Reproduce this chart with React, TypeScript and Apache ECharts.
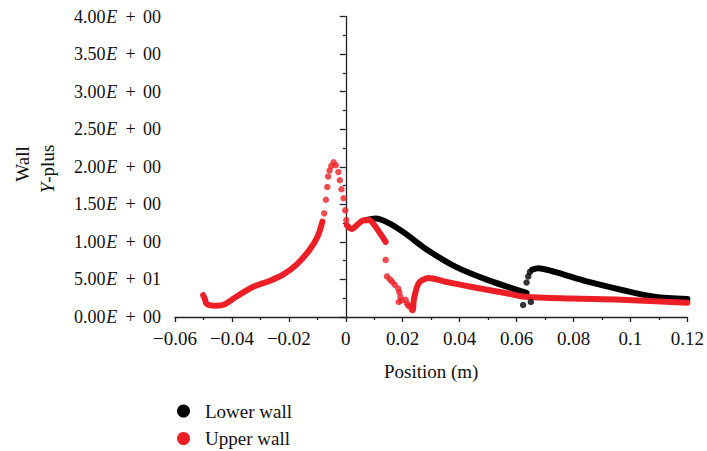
import React, { useEffect, useRef } from "react";
import * as echarts from "echarts";

// ---------- data ----------
const xTickLabels = ["\u22120.06", "\u22120.04", "\u22120.02", "0", "0.02", "0.04", "0.06", "0.08", "0.1", "0.12"];
const yTickLabels = ["0.00E + 00", "5.00E + 01", "1.00E + 00", "1.50E + 00", "2.00E + 00", "2.50E + 00", "3.00E + 00", "3.50E + 00", "4.00E + 00"];

// Lower wall (black)
const lowerSeg1: number[][] = [
  [0.007, 1.29], [0.0105, 1.31], [0.0151, 1.25], [0.021, 1.11], [0.028, 0.91],
  [0.0385, 0.67], [0.05, 0.49], [0.0635, 0.32],
];
const lowerDots: number[][] = [
  [0.0623, 0.16], [0.065, 0.2], [0.0635, 0.46], [0.0641, 0.54], [0.0647, 0.6],
];
const lowerSeg2: number[][] = [
  [0.0655, 0.63], [0.0676, 0.65], [0.0734, 0.6], [0.085, 0.47], [0.097, 0.36],
  [0.1084, 0.27], [0.12, 0.24],
];

// Upper wall (red)
const upperSeg1: number[][] = [
  [-0.0501, 0.29], [-0.0495, 0.24], [-0.049, 0.18], [-0.0475, 0.155], [-0.0455, 0.15],
  [-0.0425, 0.17], [-0.0385, 0.27], [-0.0327, 0.4], [-0.0268, 0.48], [-0.0222, 0.56],
  [-0.0175, 0.69], [-0.0128, 0.89], [-0.0099, 1.07], [-0.0082, 1.27],
];
const upperDots1: number[][] = [
  [-0.0076, 1.38], [-0.007, 1.56], [-0.0065, 1.73], [-0.0062, 1.87], [-0.0057, 1.95],
  [-0.0051, 2.01], [-0.0043, 2.06], [-0.0035, 2.02], [-0.0026, 1.93], [-0.0021, 1.82],
  [-0.0015, 1.7], [-0.0008, 1.58], [-0.0002, 1.42], [0.0002, 1.29],
];
const upperSeg2: number[][] = [
  [0.0004, 1.22], [0.0012, 1.19], [0.0022, 1.17], [0.0035, 1.21], [0.0058, 1.28],
  [0.0082, 1.29], [0.0099, 1.23], [0.0116, 1.14], [0.013, 1.06], [0.014, 1.0],
];
const upperDots2: number[][] = [
  [0.014, 0.76], [0.0145, 0.54], [0.0155, 0.5], [0.0163, 0.47], [0.0172, 0.43],
  [0.0184, 0.38], [0.0188, 0.33], [0.0192, 0.27], [0.0186, 0.2], [0.0195, 0.22],
  [0.021, 0.23], [0.0215, 0.18], [0.022, 0.15], [0.0227, 0.14], [0.0232, 0.1],
  [0.0235, 0.09],
];
const upperSeg3: number[][] = [
  [0.0237, 0.12], [0.0239, 0.23], [0.0245, 0.33], [0.025, 0.4], [0.0258, 0.46],
  [0.0268, 0.49], [0.0291, 0.52], [0.035, 0.47], [0.0443, 0.4], [0.056, 0.32],
  [0.063, 0.27], [0.079, 0.245], [0.0967, 0.23], [0.12, 0.19],
];

const BLACK = "#000000";
const RED = "#ec1f27";
const FONT = "Liberation Serif";
const TXT = "#111111";

function lineSeries(name: string, color: string, data: number[][]) {
  return {
    type: "line",
    name,
    data,
    smooth: 0.3,
    showSymbol: false,
    symbol: "circle",
    color,
    lineStyle: { color, width: 6, cap: "round", join: "round" },
    z: 2,
  };
}
function dotSeries(name: string, color: string, data: number[][]) {
  return {
    type: "scatter",
    name,
    data,
    symbol: "circle",
    symbolSize: 6.5,
    itemStyle: { color },
    z: 3,
  };
}

function legendFor(name: string, color: string, top: number) {
  return {
    orient: "vertical",
    left: 172,
    top,
    icon: "circle",
    itemWidth: 13,
    itemHeight: 13,
    data: [{ name, itemStyle: { color } }],
    textStyle: { fontFamily: FONT, fontSize: 19, color: TXT, padding: [0, 0, 0, 10] },
  };
}

export default function App() {
  const ref = useRef<HTMLDivElement>(null);
  useEffect(() => {
    if (!ref.current) return;
    const chart = echarts.init(ref.current, undefined, { renderer: "svg" });
    chart.setOption({
      animation: false,
      backgroundColor: "#ffffff",
      grid: { left: 175, right: 17, top: 16.5, bottom: 134, containLabel: false },
      xAxis: {
        type: "value",
        min: -0.06,
        max: 0.12,
        interval: 0.02,
        name: "Position (m)",
        nameLocation: "middle",
        nameGap: 45,
        nameTextStyle: { fontFamily: FONT, fontSize: 19, color: TXT },
        axisLine: { onZero: false, lineStyle: { color: "#222", width: 1.3 } },
        axisTick: { show: true, inside: false, length: 5, lineStyle: { color: "#222", width: 1.3 } },
        minorTick: { show: true, splitNumber: 2, length: 3, lineStyle: { color: "#222", width: 1.3 } },
        splitLine: { show: false },
        axisLabel: {
          margin: 12,
          fontFamily: FONT,
          fontSize: 19,
          color: TXT,
          formatter: (_v: number, i: number) => xTickLabels[i] ?? "",
        },
      },
      yAxis: {
        type: "value",
        min: 0,
        max: 4,
        interval: 0.5,
        axisLine: { show: true, lineStyle: { color: "#222", width: 1.3 } },
        axisTick: { show: true, inside: false, length: 6, lineStyle: { color: "#222", width: 1.3 } },
        minorTick: { show: true, splitNumber: 2, length: 3, lineStyle: { color: "#222", width: 1.3 } },
        splitLine: { show: false },
        axisLabel: {
          margin: 14,
          fontFamily: FONT,
          fontSize: 18,
          color: TXT,
          formatter: (_v: number, i: number) => {
            const s = yTickLabels[i] ?? "";
            const [m, rest] = s.split("E");
            const tail = rest.replace(" + ", "");
            return `{n|${m}}{e|E}{s| + }{n|${tail}}`;
          },
          rich: {
            n: { fontFamily: FONT, fontSize: 18, color: TXT },
            e: { fontFamily: FONT, fontSize: 18, fontStyle: "italic", color: TXT, width: 12.5, align: "left" },
            s: { fontFamily: FONT, fontSize: 18, color: TXT, width: 25, align: "center" },
          },
        },
      },
      legend: [
        legendFor("Lower wall", BLACK, 396.5),
        legendFor("Upper wall", RED, 424),
      ],
      graphic: [
        {
          type: "text",
          x: 22.5,
          y: 164,
          rotation: Math.PI / 2,
          style: {
            text: "Wall",
            fontFamily: FONT,
            fontSize: 19,
            fill: TXT,
            align: "center",
            verticalAlign: "middle",
          },
        },
        {
          type: "text",
          x: 47,
          y: 169,
          rotation: Math.PI / 2,
          style: {
            text: "{i|Y}-plus",
            fontFamily: FONT,
            fontSize: 19,
            fill: TXT,
            align: "center",
            verticalAlign: "middle",
            rich: { i: { fontFamily: FONT, fontSize: 19, fontStyle: "italic", fill: TXT } },
          },
        },
      ],
      series: [
        lineSeries("Lower wall", BLACK, lowerSeg1),
        dotSeries("Lower wall", BLACK, lowerDots),
        lineSeries("Lower wall", BLACK, lowerSeg2),
        lineSeries("Upper wall", RED, upperSeg1),
        dotSeries("Upper wall", RED, upperDots1),
        lineSeries("Upper wall", RED, upperSeg2),
        dotSeries("Upper wall", RED, upperDots2),
        lineSeries("Upper wall", RED, upperSeg3),
      ],
    });
    return () => chart.dispose();
  }, []);
  return <div ref={ref} style={{ width: 707, height: 451, position: "absolute", left: 0, top: 0 }} />;
}
